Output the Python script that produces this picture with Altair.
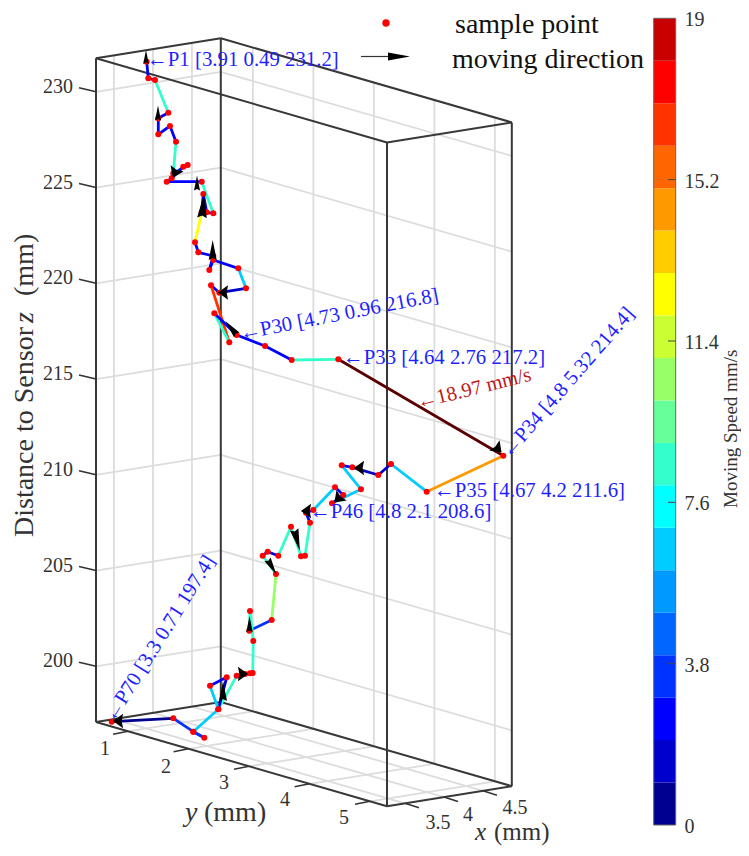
import altair as alt
import pandas as pd

# ---- path (screen-projected position of each sample)
path_u = [146.7,148.3,155,168.3,158.3,158.3,170,176,173.3,187.7,183.3,171.7,166.7,201.7,213.3,206.7,203.3,201.7,
          195,198.3,213.3,209.3,213.3,238.3,246,219.3,211,229.3,214.3,236.7,265,291.7,338.3,503.3,426.7,391,378.3,
          352.3,341.7,361,332,343.3,335,313.3,306,310,305,301,291,278.3,267.7,262.7,276,271.7,249.3,250,253.3,252.7,
          250,245,236.7,218.3,226.7,210,218.3,193.3,204.3,193.3,173.3,111.7]
path_v = [61.7,78.3,80,112.7,118.3,134.3,126,141.7,173.3,165,166.7,178.3,181.7,181.7,213.3,212.3,194,212.3,
          242.3,252.3,256,270,260,268.3,288.3,292.7,285.3,342.3,313.3,335,346,360,359.3,455.7,491.7,464,475,
          467.3,465.3,489.3,503.3,495,487.3,510,512.7,522.7,555.7,556.3,526.7,555.7,551.7,555.7,574,620,630.7,611,641,673,
          673.3,674,675.7,709.3,677.3,685.7,709.3,731.7,737.7,731.7,718.3,721.7]
# speed of each segment (mm/s), judged from its colour
seg_speed = [2.5,2.5,8.5,2.5,2.5,2.5,2.5,8.5,5.5,2.5,2.5,3.5,2.5,8.5,2.5,2.5,2.5,12.5,
             2.5,2.5,2.5,2.5,2.5,6.5,1.5,2.5,16.5,8.5,2.5,2.5,2.5,8.5,18.97,14.5,6.5,1.5,
             1.5,2.5,6.5,6.5,2.5,2.5,6.5,2.5,2.5,8.5,2.5,8.5,8.5,1.5,2.5,8.5,10.5,3.5,8.5,8.5,8.5,
             2.5,2.5,1.5,8.5,1.5,2.5,6.5,6.5,3.5,3.5,3.5,0.5]

# ---- colour bar
speed_thresholds = list(range(1, 19)) + [18.9]
speed_colors = ["#000090","#0000CC","#0000FF","#0033FF","#0066FF","#0099FF","#00CCFF","#00FFFF","#33FFCC","#66FF99",
                "#99FF66","#CCFF33","#FFFF00","#FFCC00","#FF9900","#FF6600","#FF3300","#FF0000","#C80000","#5A0000"]
cbar_ticks = [0, 3.8, 7.6, 11.4, 15.2, 19]
cbar_labels = ["0", "3.8", "7.6", "11.4", "15.2", "19"]

# ---- axes
x_ticks = [3.5, 4, 4.5]
y_ticks = [1, 2, 3, 4, 5]
z_ticks = [200, 205, 210, 215, 220, 225, 230]
x_lim = (3.27, 4.87)
y_lim = (0.47, 5.28)
z_lim = (197.09, 231.75)

# ---- direction arrows: position, heading
slim_u = [146,158,197,203,212.7,231,297,272,249.5,223]
slim_v = [57,113,183,206,250,328,540,567,624,691]
slim_a = [0,0,0,5,0,320,165,150,0,0]
slim_l = [14,15,15,24,20,18,22,18,16,20]
wide_u = [175,223,498,359,338,306,243,118]
wide_v = [173,292.5,449,468,499,511,674,721]
wide_a = [205,270,135,270,225,270,90,270]

# ---- annotations
note_text = ["←P1 [3.91 0.49 231.2]","←P30 [4.73 0.96 216.8]","←P33 [4.64 2.76 217.2]","←P34 [4.8 5.32 214.4]",
             "←P35 [4.67 4.2 211.6]","←P46 [4.8 2.1 208.6]","←P70 [3.3 0.71 197.4]"]
note_u = [147,240,343,505,434,310,109]
note_v = [60,334,358,455,491,512,720]
note_a = [0,349,0,311,0,0,302]


def proj(x, y, z):
    """Oblique view of the 3-D box."""
    u = 96 + 78.0 * (x - x_lim[0]) + 60.5 * (y - y_lim[0])
    v = 722 - 12.5 * (x - x_lim[0]) + 17.5 * (y - y_lim[0]) - 19.15 * (z - z_lim[0])
    return u, v


def seg(p, q):
    a, b = proj(*p), proj(*q)
    return {"u": a[0], "v": a[1], "u2": b[0], "v2": b[1]}


x0, x1 = x_lim
y0, y1 = y_lim
z0, z1 = z_lim

grid = []
for x in x_ticks:
    grid += [seg((x, y0, z0), (x, y1, z0)), seg((x, y0, z0), (x, y0, z1))]
for y in y_ticks:
    grid += [seg((x0, y, z0), (x1, y, z0)), seg((x1, y, z0), (x1, y, z1))]
for z in z_ticks:
    grid += [seg((x0, y0, z), (x1, y0, z)), seg((x1, y0, z), (x1, y1, z))]

box = []
for x, y in [(x0, y0), (x0, y1), (x1, y0), (x1, y1)]:
    box.append(seg((x, y, z0), (x, y, z1)))
for z in (z0, z1):
    box += [seg((x0, y0, z), (x1, y0, z)), seg((x0, y0, z), (x0, y1, z)),
            seg((x1, y0, z), (x1, y1, z)), seg((x0, y1, z), (x1, y1, z))]
bottom_ticks = []
for x in x_ticks:
    a = proj(x, y1, z0)
    bottom_ticks.append({"u": a[0], "v": a[1], "u2": a[0] + 14, "v2": a[1] + 4.5})
for y in y_ticks:
    a = proj(x0, y, z0)
    bottom_ticks.append({"u": a[0], "v": a[1], "u2": a[0] - 15, "v2": a[1] + 3})
for z in z_ticks:
    a = proj(x0, y0, z)
    bottom_ticks.append({"u": a[0], "v": a[1], "u2": a[0] - 17, "v2": a[1] - 4})

segs = pd.DataFrame({"u": path_u[:-1], "v": path_v[:-1], "u2": path_u[1:], "v2": path_v[1:], "speed": seg_speed})
pts = pd.DataFrame({"u": path_u, "v": path_v})

U = alt.X("u:Q", scale=alt.Scale(domain=[8, 741]), axis=None)
V = alt.Y("v:Q", scale=alt.Scale(domain=[848, 8]), axis=None)
U2 = alt.X2("u2:Q")
V2 = alt.Y2("v2:Q")
speed_color = alt.Color("speed:Q", scale=alt.Scale(type="threshold", domain=speed_thresholds, range=speed_colors), legend=None)
SERIF = "Liberation Serif"
GREY = "#333333"
BLUE = "#1f1fff"


def rules(rows, **kw):
    return alt.Chart(pd.DataFrame(rows)).mark_rule(**kw).encode(x=U, y=V, x2=U2, y2=V2)


def texts(text, u, v, angle, size, color, align="left", style="normal"):
    df = pd.DataFrame({"t": text, "u": u, "v": v, "a": angle})
    return alt.Chart(df).mark_text(font=SERIF, fontSize=size, color=color, align=align, baseline="middle",
                                   fontStyle=style).encode(
        x=U, y=V, text="t:N", angle=alt.Angle("a:Q", scale=None))


layers = [
    rules(grid, color="#dcdcdc", strokeWidth=1.8),
    rules(box, color="#383838", strokeWidth=2),
    rules(bottom_ticks, color="#333333", strokeWidth=1.5),
    alt.Chart(segs).mark_rule(strokeWidth=2.8, strokeCap="round").encode(x=U, y=V, x2=U2, y2=V2, color=speed_color),
    alt.Chart(pts).mark_point(shape="circle", filled=True, color="#ff0000", size=36, opacity=1).encode(x=U, y=V),
    alt.Chart(pd.DataFrame({"u": slim_u, "v": slim_v, "a": slim_a, "s": [l * l for l in slim_l]})).mark_point(
        shape="M0,-1L0.4,1L0,0.8L-0.4,1Z", filled=True, color="#000000", opacity=1).encode(
        x=U, y=V, angle=alt.Angle("a:Q", scale=None), size=alt.Size("s:Q", scale=None)),
    alt.Chart(pd.DataFrame({"u": wide_u, "v": wide_v, "a": wide_a})).mark_point(
        shape="M0,-0.7L1,0.7L0,0.5L-1,0.7Z", filled=True, color="#000000", opacity=1, size=210).encode(
        x=U, y=V, angle=alt.Angle("a:Q", scale=None)),
    # annotations
    texts(note_text, note_u, note_v, note_a, 20.8, BLUE),
    texts(["←18.97 mm/s"], [417], [403], [346], 20.5, "#c01818"),
    # tick labels
    texts([str(z) for z in z_ticks], [73] * 7, [proj(x0, y0, z)[1] - 5 for z in z_ticks], [0] * 7, 20, GREY, "right"),
    texts([str(y) for y in y_ticks], [105, 166, 224, 285, 344], [749, 767, 783, 800, 818], [0] * 5, 20, GREY, "center"),
    texts(["3.5", "4", "4.5"], [438, 468, 515], [823, 815, 808], [0] * 3, 20, GREY, "center"),
    # axis titles
    texts(["Distance to Sensor"], [25], [537], [270], 28, GREY),
    texts(["z"], [25], [323], [270], 28, GREY, style="italic"),
    texts(["(mm)"], [25], [296], [270], 28, GREY),
    texts(["y"], [185], [813], [0], 28, GREY, style="italic"),
    texts(["(mm)"], [204], [813], [0], 28, GREY),
    texts(["x"], [475], [832], [0], 25, GREY, style="italic"),
    texts(["(mm)"], [494], [832], [0], 25, GREY),
    # legend
    texts(["sample point", "moving direction"], [455, 452], [25, 60], [0, 0], 28, "#111111"),
    alt.Chart(pd.DataFrame({"u": [386], "v": [23]})).mark_point(shape="circle", filled=True, color="#ff0000", size=55, opacity=1).encode(x=U, y=V),
    rules([{"u": 361, "v": 56.5, "u2": 392, "v2": 56.5}], color="#333333", strokeWidth=1.2),
    alt.Chart(pd.DataFrame({"u": [399], "v": [56.5], "a": [90]})).mark_point(
        shape="M0,-1L0.36,1L-0.36,1Z", filled=True, color="#000000", opacity=1, size=484).encode(
        x=U, y=V, angle=alt.Angle("a:Q", scale=None)),
    texts(["Moving Speed mm/s"], [731], [508], [270], 19, GREY),
]

# colour bar, on its own speed scale
S = alt.Scale(domain=[0, 19], range=[817, 10.3])
lo = list(range(19))
cbar = pd.DataFrame({"lo": lo, "hi": [v + 1 for v in lo], "speed": [v + 0.5 for v in lo]})
layers.append(alt.Chart(cbar).mark_rect().encode(
    x=alt.value(645.7), x2=alt.value(667.7), y=alt.Y("lo:Q", scale=S, axis=None), y2="hi:Q", color=speed_color))
layers.append(alt.Chart(pd.DataFrame({"lo": [0], "hi": [19]})).mark_rect(fill=None, stroke="#666666", strokeWidth=1).encode(
    x=alt.value(645.7), x2=alt.value(667.7), y=alt.Y("lo:Q", scale=S, axis=None), y2="hi:Q"))
tick_df = pd.DataFrame({"t": cbar_ticks, "l": cbar_labels})
layers.append(alt.Chart(tick_df[1:-1]).mark_rule(color="#444444", strokeWidth=1).encode(
    x=alt.value(660), x2=alt.value(667.7), y=alt.Y("t:Q", scale=S, axis=None)))
layers.append(alt.Chart(tick_df).mark_text(font=SERIF, fontSize=20, color=GREY, align="left", baseline="middle", dy=2).encode(
    x=alt.value(676.5), y=alt.Y("t:Q", scale=S, axis=None), text="l:N"))

chart = alt.layer(*layers).resolve_scale(y="independent").properties(
    width=733, height=840, padding=0, autosize=alt.AutoSizeParams(type="none")
).configure_view(stroke=None)

chart.save("out.html", embed_options={"renderer": "svg", "actions": False})
